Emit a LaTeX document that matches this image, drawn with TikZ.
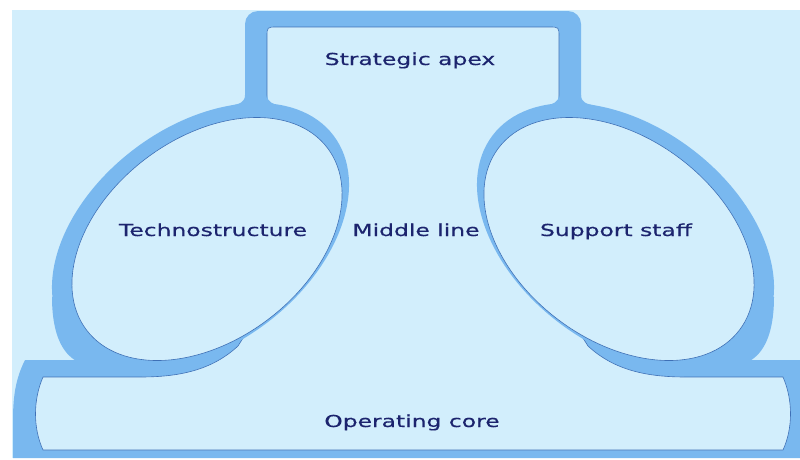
\documentclass[tikz,border=0pt]{standalone}
\usepackage{fontspec}
\newfontfamily\lblfont[FakeStretch=1.42,FakeBold=0.5]{DejaVu Sans}
\definecolor{paleblue}{RGB}{210,238,252}
\definecolor{ringblue}{RGB}{121,184,239}
\definecolor{edgeblue}{RGB}{62,112,182}
\definecolor{navy}{RGB}{28,36,110}
\begin{document}
\begin{tikzpicture}[x=1pt,y=-1pt,
  ring/.style={fill=ringblue},
  hole/.style={fill=paleblue, draw=edgeblue, line width=0.6pt},
  lbl/.style={font=\lblfont\fontsize{16.5}{18}\selectfont, text=navy, anchor=base, inner sep=0pt}]
\useasboundingbox (0,0) rectangle (800,459);
\fill[white] (0,0) rectangle (800,459);
\fill[paleblue] (12,10) rectangle (800,458);

% outer frame: strategic apex walls and operating core base
\fill[ring, rounded corners=13pt] (245,112) -- (245,11) -- (581,11) -- (581,112) -- cycle;
\fill[ring] (13,458) -- (13,420) .. controls (13,395) and (16,378) .. (25,360)
  -- (75,360) -- (75,330) -- (751,330) -- (751,360) -- (800,360) -- (800,458) -- cycle;

% open interior: apex, middle line and operating core
\path[hole] (267,112) -- (267,37) .. controls (267,27) .. (277,27) -- (549,27)
  .. controls (559,27) .. (559,37) -- (559,300) -- (588,346)
  .. controls (614,370) and (646,377) .. (686,377) -- (783,377)
  .. controls (793,400) and (793,428) .. (783,450) -- (43,450)
  .. controls (33,428) and (33,400) .. (43,377) -- (140,377)
  .. controls (180,377) and (212,370) .. (238,346) -- (267,300) -- cycle;

% technostructure and support staff rings
\begin{scope}[shift={(200.5,236)}, rotate=37]
  \fill[ring] (0,0) ellipse [x radius=166.7pt, y radius=109.3pt];
\end{scope}
\begin{scope}[shift={(625.5,236)}, rotate=-37]
  \fill[ring] (0,0) ellipse [x radius=166.7pt, y radius=109.3pt];
\end{scope}

% fillets where the rings meet the frame
\fill[ring] (245,95) .. controls (245,102) and (240,104) .. (231,105.5) -- (250,114) -- cycle;
\fill[ring] (267,95) .. controls (267,102) and (273,104) .. (283,107) -- (262,114) -- cycle;
\fill[ring] (581,95) .. controls (581,102) and (586,104) .. (595,105.5) -- (576,114) -- cycle;
\fill[ring] (559,95) .. controls (559,102) and (553,104) .. (543,107) -- (564,114) -- cycle;
\fill[ring] (52,297) .. controls (52,325) and (58,347) .. (72,358) -- (76,361) -- (110,361) -- (110,297) -- cycle;
\fill[ring] (774,297) .. controls (774,325) and (768,347) .. (754,358) -- (750,361) -- (716,361) -- (716,297) -- cycle;

% ring interiors
\begin{scope}[shift={(207,239)}, rotate=37]
  \path[hole] (0,0) ellipse [x radius=151pt, y radius=101pt];
\end{scope}
\begin{scope}[shift={(619,239)}, rotate=-37]
  \path[hole] (0,0) ellipse [x radius=151pt, y radius=101pt];
\end{scope}

% labels
\node[lbl] (apex) at (410,65) {Strategic apex};
\node[lbl] (techno) at (213,236) {Technostructure};
\node[lbl] (middle) at (416,236) {Middle line};
\node[lbl] (support) at (616,236) {Support staff};
\node[lbl] (core) at (412,427) {Operating core};
\end{tikzpicture}
\end{document}
